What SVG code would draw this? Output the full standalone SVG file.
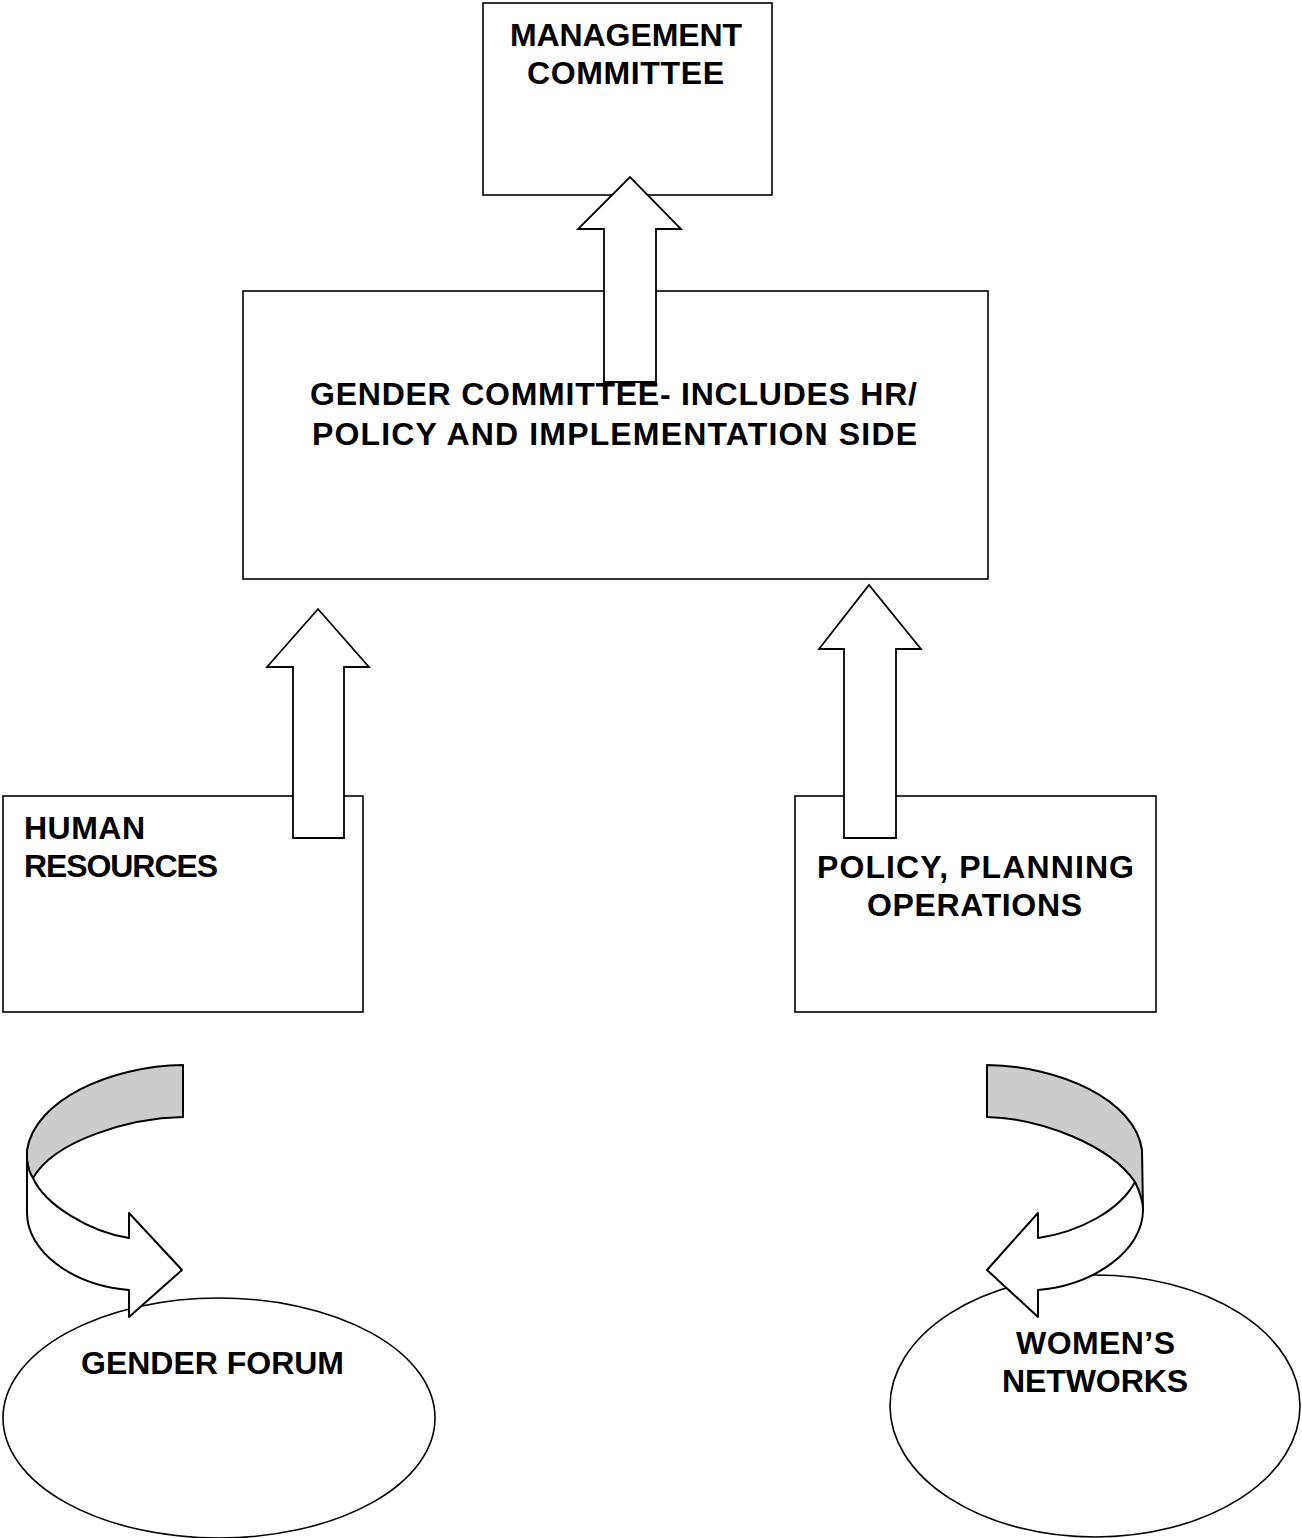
<svg xmlns="http://www.w3.org/2000/svg" width="1302" height="1538" viewBox="0 0 1302 1538">
<style>
.box{fill:#fff;stroke:#000;stroke-width:1.6}
.arw{fill:#fff;stroke:#000;stroke-width:1.8;stroke-linejoin:miter}
.crv{stroke:#000;stroke-width:2;stroke-linejoin:round}
.t{font-family:"Liberation Sans",Arial,sans-serif;font-weight:bold;font-size:32px;fill:#000}
.c{text-anchor:middle}
</style>
<rect width="1302" height="1538" fill="#fff"/>
<g id="management">
<rect class="box" x="483" y="3" width="289" height="192"/>
<text class="t c" x="626" y="46" textLength="232" lengthAdjust="spacing">MANAGEMENT</text>
<text class="t c" x="625.5" y="84" textLength="197" lengthAdjust="spacing">COMMITTEE</text>
</g>
<g id="gender-committee">
<rect class="box" x="243" y="291" width="745" height="288"/>
<text class="t c" x="613.5" y="405" textLength="607" lengthAdjust="spacing">GENDER COMMITTEE- INCLUDES HR/</text>
<text class="t c" x="614.5" y="445" textLength="605" lengthAdjust="spacing">POLICY AND IMPLEMENTATION SIDE</text>
</g>
<g id="human-resources">
<rect class="box" x="3" y="796" width="360" height="216"/>
<text class="t" x="24" y="839" textLength="121" lengthAdjust="spacing">HUMAN</text>
<text class="t" x="24" y="877" textLength="194" lengthAdjust="spacing">RESOURCES</text>
</g>
<g id="policy-planning">
<rect class="box" x="795" y="796" width="361" height="216"/>
<text class="t c" x="975.5" y="878" textLength="317" lengthAdjust="spacing">POLICY, PLANNING</text>
<text class="t c" x="974.5" y="916" textLength="215" lengthAdjust="spacing">OPERATIONS</text>
</g>
<g id="gender-forum">
<ellipse class="box" cx="219" cy="1418" rx="216" ry="120"/>
<text class="t c" x="212.5" y="1374" textLength="263" lengthAdjust="spacing">GENDER FORUM</text>
</g>
<g id="womens-networks">
<ellipse class="box" cx="1095" cy="1406" rx="205" ry="131"/>
<text class="t c" x="1095.5" y="1354" textLength="159" lengthAdjust="spacing">WOMEN’S</text>
<text class="t c" x="1095" y="1392" textLength="186" lengthAdjust="spacing">NETWORKS</text>
</g>
<g id="connectors">
<path class="arw" d="M604,382 L604,229 L578,229 L630,177 L681,229 L656,229 L656,382 Z"/>
<path class="arw" d="M293,838 L293,667 L267,667 L318,609 L369,667 L344,667 L344,838 Z"/>
<path class="arw" d="M844,838 L844,649 L819,649 L869,585 L921,649 L896,649 L896,838 Z"/>
<path class="crv" fill="#cccccc" d="M183,1065 C110,1066 35,1100 27,1150 L27,1160 C28,1168 30,1174 33,1178 C55,1140 130,1118 183,1117 Z"/>
<path class="crv" fill="#fff" d="M27,1160 L27,1213 C27,1250 70,1285 129,1290 L129,1317 L182,1270 L129,1213 L129,1238 C90,1232 45,1205 33,1178 C30,1174 28,1168 27,1160 Z"/>
<path class="crv" fill="#cccccc" d="M987,1065 C1060,1066 1135,1100 1142,1150 L1143,1210 C1141,1198 1138,1190 1135,1182 C1110,1145 1040,1118 987,1117 Z"/>
<path class="crv" fill="#fff" d="M1135,1182 C1139,1190 1143,1200 1143,1210 C1143,1250 1095,1285 1038,1290 L1038,1317 L987,1270 L1038,1213 L1038,1238 C1080,1232 1120,1210 1135,1182 Z"/>
</g>
</svg>
